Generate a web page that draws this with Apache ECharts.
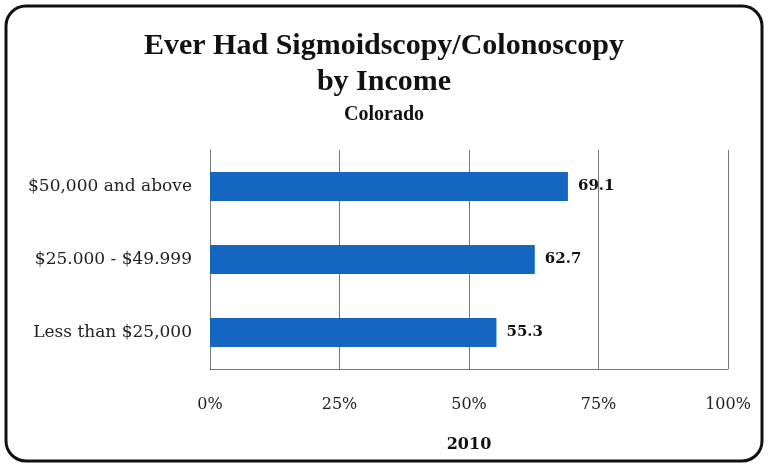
<!DOCTYPE html>
<html>
<head>
<meta charset="utf-8">
<script src="https://cdn.jsdelivr.net/npm/echarts@6/dist/echarts.min.js"></script>
<style>
html,body{margin:0;padding:0;background:#fff;}
#chart{width:768px;height:467px;}
</style>
</head>
<body>
<div id="chart"></div>
<script>
const categories = ['$50,000 and above', '$25.000 - $49.999', 'Less than $25,000'];
const values = [69.1, 62.7, 55.3];
const xTicks = [0, 25, 50, 75, 100];
const axisName = '2010';
const titleText = 'Ever Had Sigmoidscopy/Colonoscopy\nby Income';
const subtitleText = 'Colorado';

const TFONT = '"Liberation Serif", "DejaVu Serif", serif';
const LFONT = '"DejaVu Serif", "Liberation Serif", serif';
const chart = echarts.init(document.getElementById('chart'), null, {renderer: 'canvas'});
chart.setOption({
  backgroundColor: '#fff',
  animation: false,
  graphic: [{
    type: 'rect',
    shape: {x: 6, y: 6, width: 756, height: 455, r: 20},
    style: {fill: 'none', stroke: '#111', lineWidth: 3},
    silent: true,
    z: -1
  }],
  title: [{
    text: titleText,
    left: 'center',
    top: 23,
    textStyle: {fontFamily: TFONT, fontSize: 30, fontWeight: 'bold', color: '#111', lineHeight: 36, align: 'center'}
  }, {
    text: subtitleText,
    left: 'center',
    top: 100,
    textStyle: {fontFamily: TFONT, fontSize: 20, fontWeight: 'bold', color: '#111'}
  }],
  grid: {left: 210, right: 40, top: 150, bottom: 98, containLabel: false},
  xAxis: {
    type: 'value',
    min: xTicks[0],
    max: xTicks[xTicks.length - 1],
    interval: xTicks[1] - xTicks[0],
    name: axisName,
    nameLocation: 'middle',
    nameGap: 68,
    nameTextStyle: {fontFamily: LFONT, fontSize: 16, fontWeight: 'bold', color: '#111'},
    axisLine: {show: true, lineStyle: {color: '#777', width: 1}},
    axisTick: {show: false},
    axisLabel: {formatter: '{value}%', margin: 28, fontFamily: LFONT, fontSize: 16, color: '#222'},
    splitLine: {show: true, lineStyle: {color: '#777', width: 1}}
  },
  yAxis: {
    type: 'category',
    data: categories,
    inverse: true,
    axisLine: {show: true, lineStyle: {color: '#777', width: 1}},
    axisTick: {show: false},
    axisLabel: {margin: 18, fontFamily: LFONT, fontSize: 17, color: '#222'}
  },
  series: [{
    type: 'bar',
    data: values,
    barWidth: '40%',
    itemStyle: {color: '#1466c0'},
    label: {
      show: true,
      position: 'right',
      distance: 10,
      fontFamily: LFONT,
      fontSize: 15,
      fontWeight: 'bold',
      color: '#111'
    }
  }]
});
</script>
</body>
</html>
